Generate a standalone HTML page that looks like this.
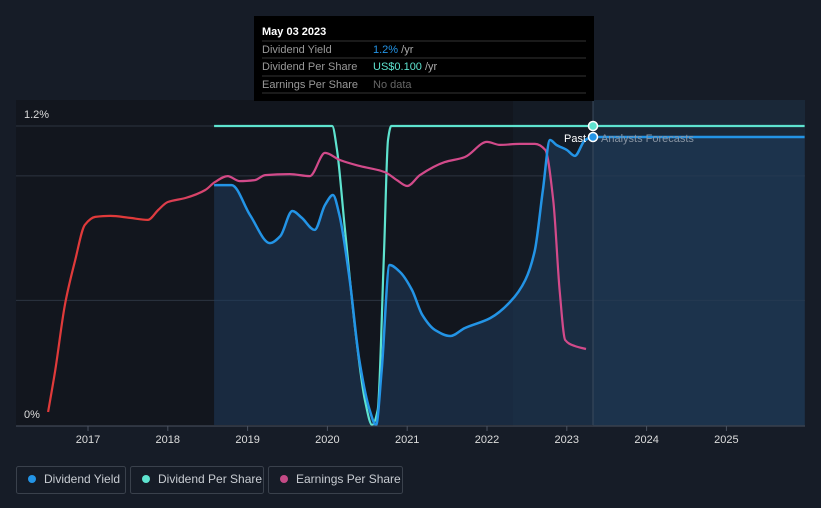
<!DOCTYPE html>
<html><head><meta charset="utf-8"><style>
body{margin:0;background:#161c27;font-family:"Liberation Sans",sans-serif;}
svg{display:block}
</style></head><body>
<svg id="chart" width="821" height="508" viewBox="0 0 821 508" xmlns="http://www.w3.org/2000/svg">
<defs>
<linearGradient id="epsG" gradientUnits="userSpaceOnUse" x1="48" y1="0" x2="230" y2="0">
<stop offset="0" stop-color="#e03a3a"/><stop offset="0.55" stop-color="#e03a3a"/><stop offset="1" stop-color="#d24a8a"/>
</linearGradient>
</defs>
<rect x="0" y="0" width="821" height="508" fill="#161c27"/>
<rect x="16" y="100" width="577" height="326" fill="#12161e"/>
<rect x="593" y="100" width="212" height="326" fill="#1a2838"/>
<rect x="513" y="100" width="80" height="326" fill="#141b25"/>
<g id="grid"></g>
<path id="dyArea" fill="#1f3d5c" fill-opacity="0.55"/>
<path id="dpsLine" fill="none" stroke="#5ee3cf" stroke-width="2.2"/>
<path id="epsLine" fill="none" stroke="url(#epsG)" stroke-width="2.2"/>
<path id="dyLine" fill="none" stroke="#2394e6" stroke-width="2.5"/>
<line x1="593" y1="101" x2="593" y2="425" stroke="#3a4a5c" stroke-width="1"/>
<line x1="16" y1="426" x2="805" y2="426" stroke="#4a5260" stroke-width="1"/>
<g id="xticks"></g>
<text x="24" y="118" fill="#ddd" font-size="11">1.2%</text>
<text x="24" y="418" fill="#ddd" font-size="11">0%</text>
<circle cx="593" cy="126" r="4.5" fill="#5ee3cf" stroke="#fff" stroke-width="1.5"/>
<circle cx="593" cy="137" r="4.5" fill="#2394e6" stroke="#fff" stroke-width="1.5"/>
<text x="586" y="142" text-anchor="end" fill="#fff" font-size="11">Past</text>
<text x="601" y="142" fill="#8894a2" font-size="11">Analysts Forecasts</text>
<g>
<rect x="254" y="16" width="340" height="85" fill="#000"/>
<text x="262" y="35" fill="#fff" font-size="11" font-weight="bold">May 03 2023</text>
<line x1="262" y1="41" x2="586" y2="41" stroke="#333"/>
<text x="262" y="53" fill="#999" font-size="11">Dividend Yield</text>
<text x="373" y="53" fill="#2394e6" font-size="11">1.2%<tspan fill="#aaa"> /yr</tspan></text>
<line x1="262" y1="58" x2="586" y2="58" stroke="#333"/>
<text x="262" y="70" fill="#999" font-size="11">Dividend Per Share</text>
<text x="373" y="70" fill="#5ee3cf" font-size="11">US$0.100<tspan fill="#aaa"> /yr</tspan></text>
<line x1="262" y1="76" x2="586" y2="76" stroke="#333"/>
<text x="262" y="88" fill="#999" font-size="11">Earnings Per Share</text>
<text x="373" y="88" fill="#666" font-size="11">No data</text>
<line x1="262" y1="93" x2="586" y2="93" stroke="#333"/>
</g>
<g>
<rect x="16.5" y="466.5" width="109" height="27" rx="2" fill="none" stroke="#3a414c"/>
<circle cx="32" cy="479" r="4" fill="#2394e6"/>
<text x="44" y="483" fill="#c8ccd2" font-size="12">Dividend Yield</text>
</g>
<g>
<rect x="130.5" y="466.5" width="133" height="27" rx="2" fill="none" stroke="#3a414c"/>
<circle cx="146" cy="479" r="4" fill="#5ee3cf"/>
<text x="158" y="483" fill="#c8ccd2" font-size="12">Dividend Per Share</text>
</g>
<g>
<rect x="268.5" y="466.5" width="134" height="27" rx="2" fill="none" stroke="#3a414c"/>
<circle cx="284" cy="479" r="4" fill="#c44a86"/>
<text x="296" y="483" fill="#c8ccd2" font-size="12">Earnings Per Share</text>
</g>
</svg>
<script>
const xTickYears=[2017,2018,2019,2020,2021,2022,2023,2024,2025];
const gridValues=[1.2,1.0,0.5];
const dyDates=[2018.58,2018.80,2019.03,2019.28,2019.41,2019.56,2019.68,2019.84,2019.97,2020.07,2020.15,2020.28,2020.40,2020.53,2020.61,2020.68,2020.78,2020.91,2021.06,2021.19,2021.35,2021.54,2021.72,2022.04,2022.29,2022.48,2022.60,2022.70,2022.79,2022.87,2023.00,2023.10,2023.23,2023.33,2025.98];
const dyValues=[0.963,0.963,0.843,0.730,0.758,0.859,0.831,0.783,0.883,0.923,0.843,0.582,0.261,0.060,0.0,0.221,0.642,0.614,0.542,0.441,0.381,0.357,0.389,0.429,0.494,0.582,0.702,0.943,1.144,1.124,1.104,1.080,1.144,1.156,1.156];
const dpsDates=[2018.58,2020.06,2020.12,2020.22,2020.35,2020.47,2020.56,2020.63,2020.71,2020.76,2020.80,2025.98];
const dpsValues=[1.2,1.2,1.104,0.783,0.381,0.100,0.0,0.060,0.702,1.144,1.2,1.2];
const epsDates=[2016.50,2016.59,2016.71,2016.84,2016.96,2017.09,2017.28,2017.53,2017.75,2017.88,2018.00,2018.22,2018.47,2018.59,2018.75,2018.90,2019.09,2019.22,2019.53,2019.78,2019.97,2020.16,2020.41,2020.72,2020.87,2021.00,2021.16,2021.47,2021.72,2022.00,2022.16,2022.41,2022.60,2022.73,2022.83,2022.91,2022.98,2023.10,2023.24];
const epsValues=[0.052,0.221,0.482,0.662,0.803,0.835,0.839,0.831,0.823,0.863,0.895,0.911,0.943,0.975,0.999,0.979,0.983,1.003,1.007,0.999,1.092,1.063,1.039,1.015,0.983,0.959,1.003,1.055,1.075,1.136,1.124,1.128,1.128,1.104,0.903,0.542,0.341,0.317,0.305];

function xS(t){return 88+(t-2017)*79.8;}
function yS(v){return 425-v/1.2*299;}
function pathOf(ds,vs){
  const x=ds.map(xS), y=vs.map(yS), n=x.length;
  const d=[],m=new Array(n);
  for(let i=0;i<n-1;i++) d.push((y[i+1]-y[i])/(x[i+1]-x[i]));
  m[0]=d[0]; m[n-1]=d[n-2];
  for(let i=1;i<n-1;i++){
    if(d[i-1]*d[i]<=0) m[i]=0;
    else { const w1=2*(x[i+1]-x[i])+(x[i]-x[i-1]), w2=(x[i+1]-x[i])+2*(x[i]-x[i-1]);
      m[i]=(w1+w2)/(w1/d[i-1]+w2/d[i]); }
  }
  let s='M'+x[0].toFixed(1)+','+y[0].toFixed(1);
  for(let i=0;i<n-1;i++){
    const h=(x[i+1]-x[i])/3;
    s+=' C'+(x[i]+h).toFixed(1)+','+(y[i]+m[i]*h).toFixed(1)+' '+(x[i+1]-h).toFixed(1)+','+(y[i+1]-m[i+1]*h).toFixed(1)+' '+x[i+1].toFixed(1)+','+y[i+1].toFixed(1);
  }
  return s;
}
const NS='http://www.w3.org/2000/svg';
const grid=document.getElementById('grid');
gridValues.forEach(v=>{
  const l=document.createElementNS(NS,'line');
  
  
  l.setAttribute('x1',16);l.setAttribute('x2',805);
  l.setAttribute('y1',yS(v));l.setAttribute('y2',yS(v));
  l.setAttribute('stroke','#2c3440');l.setAttribute('stroke-width','1');
  grid.appendChild(l);
});
const xt=document.getElementById('xticks');
xTickYears.forEach(y=>{
  const l=document.createElementNS(NS,'line');
  
  
  l.setAttribute('x1',xS(y));l.setAttribute('x2',xS(y));l.setAttribute('y1',426);l.setAttribute('y2',431);
  l.setAttribute('stroke','#4a5260');
  xt.appendChild(l);
  const t=document.createElementNS(NS,'text');
  
  
  t.setAttribute('x',xS(y));t.setAttribute('y',443);t.setAttribute('text-anchor','middle');
  t.setAttribute('fill','#ddd');t.setAttribute('font-size','11');
  t.textContent=y;
  xt.appendChild(t);
});
const dyP=pathOf(dyDates,dyValues);
document.getElementById('dyLine').setAttribute('d',dyP);
document.getElementById('dyArea').setAttribute('d',dyP+' L'+xS(dyDates[dyDates.length-1])+',425 L'+xS(dyDates[0])+',425 Z');
document.getElementById('dpsLine').setAttribute('d',pathOf(dpsDates,dpsValues));
document.getElementById('epsLine').setAttribute('d',pathOf(epsDates,epsValues));
</script>
</body></html>
